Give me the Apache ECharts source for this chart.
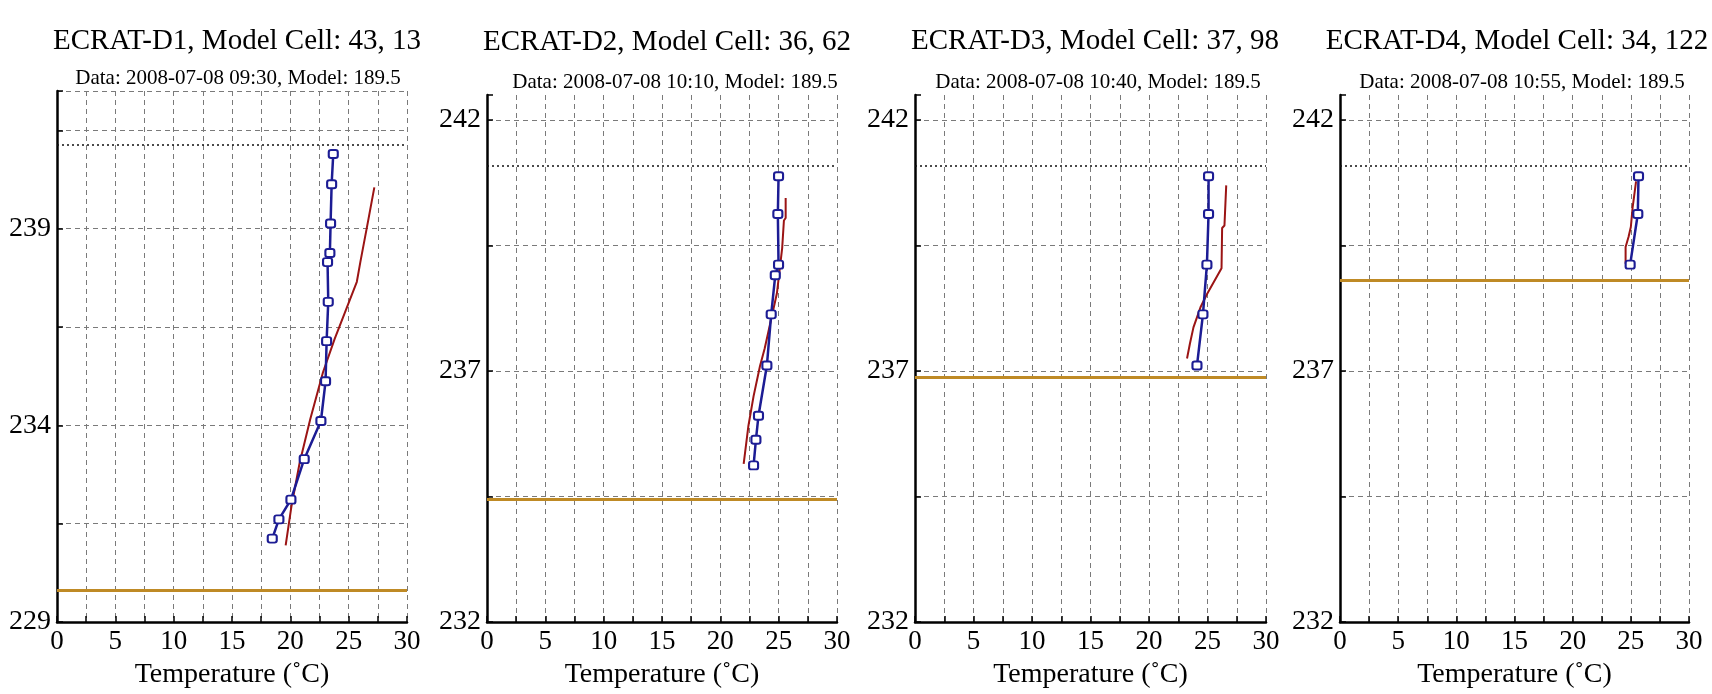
<!doctype html>
<html>
<head>
<meta charset="UTF-8">
<title>ECRAT temperature profiles</title>
<script src="https://cdn.jsdelivr.net/npm/echarts@6.0.0/dist/echarts.min.js"></script>
<style>
  html, body { margin: 0; padding: 0; background: #fff; }
  #chart { width: 1712px; height: 694px; }
</style>
</head>
<body>
<div id="chart"></div>
<script>
// panel texts
var titles = ['ECRAT-D1, Model Cell: 43, 13', 'ECRAT-D2, Model Cell: 36, 62',
              'ECRAT-D3, Model Cell: 37, 98', 'ECRAT-D4, Model Cell: 34, 122'];
var subtitles = ['Data: 2008-07-08 09:30, Model: 189.5', 'Data: 2008-07-08 10:10, Model: 189.5',
                 'Data: 2008-07-08 10:40, Model: 189.5', 'Data: 2008-07-08 10:55, Model: 189.5'];
var xName = 'Temperature (˚C)';

// axis ranges
var tempMin = 0, tempMax = 30;
var elevMins = [229, 232, 232, 232];
var elevMax = 242.5;

// observed profiles [temperature, elevation]
var obs1 = [[23.68,240.90],[23.54,240.13],[23.45,239.13],[23.39,238.38],[23.19,238.15],[23.25,237.14],
            [23.11,236.14],[23.02,235.12],[22.62,234.11],[21.19,233.14],[20.05,232.11],[19.02,231.61],[18.45,231.12]];
var obs2 = [[24.99,240.88],[24.93,240.13],[24.99,239.12],[24.71,238.91],[24.36,238.13],[23.99,237.11],
            [23.27,236.11],[23.05,235.63],[22.85,235.12]];
var obs3 = [[25.09,240.88],[25.09,240.13],[24.95,239.12],[24.61,238.13],[24.10,237.11]];
var obs4 = [[25.66,240.88],[25.60,240.13],[24.94,239.12]];

// model profiles
var mod1 = [[27.2,240.05],[26.7,239.25],[26.0,238.15],[25.7,237.65],[23.8,236.2],[22.8,235.35],
            [21.7,234.15],[20.8,233.05],[20.1,231.95],[19.6,230.95]];
var mod2 = [[25.6,240.45],[25.6,240.05],[25.45,240.0],[25.3,239.45],[24.85,238.55],[23.8,237.45],
            [23.4,237.1],[22.85,236.5],[22.4,235.9],[22.0,235.15]];
var mod3 = [[26.6,240.7],[26.45,239.9],[26.25,239.85],[26.2,239.05],[24.95,238.53],[24.4,238.27],
            [23.8,237.87],[23.5,237.55],[23.25,237.25]];
var mod4 = [[25.45,240.78],[25.15,240.25],[25.0,239.87],[24.8,239.67],[24.55,239.47],[24.55,239.14]];

// horizontal reference levels
var dottedLevels = [241.13, 241.1, 241.1, 241.1];
var bottomLevels = [229.8, 234.45, 236.88, 238.8];

var obsAll = [obs1, obs2, obs3, obs4];
var modAll = [mod1, mod2, mod3, mod4];

var myChart = echarts.init(document.getElementById('chart'));
var font = "'Liberation Serif', 'Times New Roman', serif";

// panel boxes in px
var boxes = [
  { left: 57,   top: 91, width: 350, height: 532 },
  { left: 487,  top: 95, width: 350, height: 531 },
  { left: 915,  top: 95, width: 351, height: 531 },
  { left: 1340, top: 95, width: 349, height: 531 }
];
var titlePos = [[232, 22, 233, 63], [662, 23, 670, 67], [1090, 22, 1093, 67], [1512, 22, 1517, 67]];

var gridLine = { show: true, lineStyle: { color: '#7a7a7a', type: [5, 4], width: 1 } };

var title = [], grid = [], xAxis = [], yAxis = [], series = [];
for (var i = 0; i < 4; i++) {
  (function (i) {
    var yMin = elevMins[i];
    title.push({
      text: titles[i], left: titlePos[i][0], top: titlePos[i][1], textAlign: 'center',
      textStyle: { fontFamily: font, fontSize: 29, fontWeight: 'normal', color: '#000' }
    });
    title.push({
      text: subtitles[i], left: titlePos[i][2], top: titlePos[i][3], textAlign: 'center',
      textStyle: { fontFamily: font, fontSize: 21, fontWeight: 'normal', color: '#000' }
    });
    grid.push(boxes[i]);
    xAxis.push({
      type: 'value', gridIndex: i, min: tempMin, max: tempMax, interval: 2.5,
      name: xName, nameLocation: 'middle', nameGap: 39,
      nameTextStyle: { fontFamily: font, fontSize: 28, color: '#000' },
      axisLine: { show: true, onZero: false, lineStyle: { color: '#000', width: 2.5 } },
      axisTick: { show: true, inside: true, length: 6, lineStyle: { color: '#000', width: 1.5 } },
      axisLabel: {
        fontFamily: font, fontSize: 27, color: '#000', margin: 6,
        formatter: function (v) { return v % 5 === 0 ? String(v) : ''; }
      },
      splitLine: gridLine
    });
    yAxis.push({
      type: 'value', gridIndex: i, min: yMin, max: elevMax, interval: 2.5,
      axisLine: { show: true, onZero: false, lineStyle: { color: '#000', width: 2.5 } },
      axisTick: { show: true, inside: true, length: 6, lineStyle: { color: '#000', width: 1.5 } },
      axisLabel: {
        fontFamily: font, fontSize: 28, color: '#000', margin: 6,
        formatter: function (v) {
          var d = v - yMin;
          return (Math.abs(d % 5) < 1e-6 && v <= 242) ? String(v) : '';
        }
      },
      splitLine: {
        show: true, showMaxLine: i === 0,
        lineStyle: { color: '#7a7a7a', type: [5, 4], width: 1 }
      }
    });
    series.push({
      type: 'line', xAxisIndex: i, yAxisIndex: i, data: modAll[i],
      showSymbol: false, z: 3,
      lineStyle: { color: '#9b1414', width: 2 },
      itemStyle: { color: '#9b1414' },
      markLine: {
        silent: true, symbol: 'none', label: { show: false }, animation: false,
        data: [
          { yAxis: dottedLevels[i], lineStyle: { color: '#111', type: [2, 3], width: 1.6 } },
          { yAxis: bottomLevels[i], lineStyle: { color: '#bf8a25', type: 'solid', width: 3 } }
        ]
      }
    });
    series.push({
      type: 'line', xAxisIndex: i, yAxisIndex: i, data: obsAll[i],
      symbol: 'roundRect', symbolSize: [9, 8], showSymbol: true, z: 4,
      lineStyle: { color: '#1c1c94', width: 2.5 },
      itemStyle: { color: '#fff', borderColor: '#1c1c94', borderWidth: 2 }
    });
  })(i);
}

myChart.setOption({
  animation: false,
  title: title,
  grid: grid,
  xAxis: xAxis,
  yAxis: yAxis,
  series: series
});
</script>
</body>
</html>
